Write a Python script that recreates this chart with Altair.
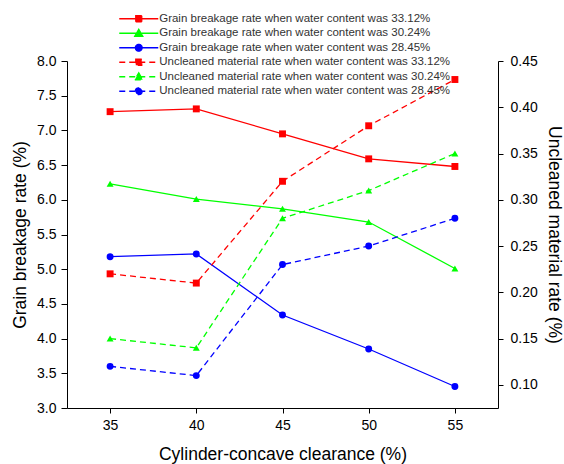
import altair as alt
import pandas as pd

# ---------------- data ----------------
clearance = [35, 40, 45, 50, 55]
breakage_3312 = [7.27, 7.31, 6.95, 6.59, 6.48]
breakage_3024 = [6.23, 6.01, 5.87, 5.68, 5.01]
breakage_2845 = [5.18, 5.22, 4.34, 3.85, 3.31]
uncleaned_3312 = [0.22, 0.21, 0.32, 0.38, 0.43]
uncleaned_3024 = [0.15, 0.14, 0.28, 0.31, 0.35]
uncleaned_2845 = [0.12, 0.11, 0.23, 0.25, 0.28]

water = ["33.12%", "30.24%", "28.45%"]
breakage_labels = [f"Grain breakage rate when water content was {w}" for w in water]
uncleaned_labels = [f"Uncleaned material rate when water content was {w}" for w in water]
series_labels = breakage_labels + uncleaned_labels

left_ticks = [3.0, 3.5, 4.0, 4.5, 5.0, 5.5, 6.0, 6.5, 7.0, 7.5, 8.0]
right_ticks = [0.10, 0.15, 0.20, 0.25, 0.30, 0.35, 0.40, 0.45]

# ---------------- styles ----------------
colors = ["#FF0000", "#00FF00", "#0000FF"]
shapes = ["square", "triangle-up", "circle"]
dash = [6, 4]
FONT = "Liberation Sans"

# legend symbols: a line with the marker in its middle (unit = sqrt(symbolSize)/2 = 4 px)
legend_paths = [
    "M-4.875,0H4.875M-0.75,-0.75H0.75V0.75H-0.75Z",
    "M-4.875,0H4.875M0,-1L1,0.75L-1,0.75Z",
    "M-4.875,0H4.875M0.85,0A0.85,0.85,0,1,1,-0.85,0A0.85,0.85,0,1,1,0.85,0Z",
]

x_enc = alt.X(
    "clearance:Q",
    scale=alt.Scale(domain=[32.5, 57.5], nice=False, zero=False),
    axis=alt.Axis(values=clearance, format="d", title="Cylinder-concave clearance (%)",
                  tickSize=5, labelPadding=5, titlePadding=13),
)

y_left = alt.Y(
    "value:Q",
    scale=alt.Scale(domain=[3, 8], nice=False, zero=False),
    axis=alt.Axis(orient="left", values=left_ticks, format=".1f", title="Grain breakage rate (%)",
                  tickSize=6, labelPadding=5, titlePadding=7),
)
y_right = alt.Y(
    "value:Q",
    scale=alt.Scale(domain=[0.075, 0.45], nice=False, zero=False),
    axis=alt.Axis(orient="right", values=right_ticks, format=".2f", title="Uncleaned material rate (%)",
                  tickSize=5, labelPadding=7, titlePadding=7),
)


def series_layers(values, y_enc, color, shape, dashed):
    df = pd.DataFrame({"clearance": clearance, "value": values})
    base = alt.Chart(df).encode(x=x_enc, y=y_enc)
    if dashed:
        line = base.mark_line(color=color, strokeWidth=1.3, strokeDash=dash)
    else:
        line = base.mark_line(color=color, strokeWidth=1.3)
    pts = base.mark_point(shape=shape, filled=True, color=color, size=48, opacity=1)
    return [line, pts]


left_layers = []
for vals, c, s in zip([breakage_3312, breakage_3024, breakage_2845], colors, shapes):
    left_layers += series_layers(vals, y_left, c, s, False)

right_layers = []
for vals, c, s in zip([uncleaned_3312, uncleaned_3024, uncleaned_2845], colors, shapes):
    right_layers += series_layers(vals, y_right, c, s, True)

legend_def = alt.Legend(
    title=None, orient="none", legendX=51, legendY=-48,
    symbolSize=64, symbolStrokeWidth=1.3, symbolOffset=15,
    labelFontSize=11.5, labelFont=FONT, labelColor="#333333",
    labelOffset=14.7, rowPadding=1.5, labelLimit=0, padding=0,
)
legend_df = pd.DataFrame({"series": series_labels})
legend_layer = (
    alt.Chart(legend_df)
    .transform_filter("false")
    .mark_point(filled=True, opacity=1, strokeWidth=1.3)
    .encode(
        fill=alt.Fill("series:N", scale=alt.Scale(domain=series_labels, range=colors * 2), legend=legend_def),
        stroke=alt.Stroke("series:N", scale=alt.Scale(domain=series_labels, range=colors * 2), legend=legend_def),
        shape=alt.Shape("series:N", scale=alt.Scale(domain=series_labels, range=legend_paths * 2), legend=legend_def),
        strokeDash=alt.StrokeDash("series:N",
                                  scale=alt.Scale(domain=series_labels, range=[[1, 0]] * 3 + [dash] * 3),
                                  legend=legend_def),
    )
)

left = alt.layer(*left_layers, legend_layer)
right = alt.layer(*right_layers)

chart = (
    alt.layer(left, right)
    .resolve_scale(y="independent")
    .properties(
        width=431, height=347,
        autosize=alt.AutoSizeParams(type="none"),
        padding={"left": 67, "top": 61, "right": 66, "bottom": 56},
        background="white",
    )
    .configure_view(stroke=None)
    .configure_axis(
        grid=False, domainColor="black", tickColor="black", labelColor="black", titleColor="black",
        labelFont=FONT, titleFont=FONT, labelFontSize=14, titleFontSize=17.5, titleFontWeight="normal",
        domainWidth=1, tickWidth=1,
    )
)

chart.save("out.html", embed_options={"renderer": "svg", "actions": False})
